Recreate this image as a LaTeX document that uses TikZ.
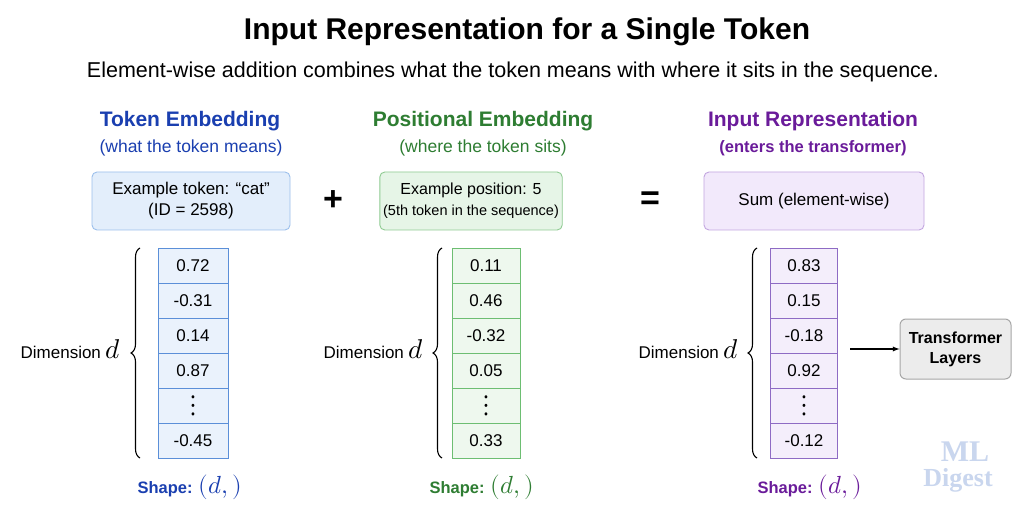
\documentclass[tikz,border=0pt]{standalone}
\usepackage{unicode-math}
\setmainfont{Liberation Sans}
\setmathfont{Latin Modern Math}
\newfontfamily\wmfont{Liberation Serif}
\usetikzlibrary{decorations.pathreplacing}
\definecolor{hb}{HTML}{1A3FB0}\definecolor{hg}{HTML}{2E7D32}\definecolor{hp}{HTML}{6A1B9A}
\definecolor{bbf}{HTML}{E3EEFB}\definecolor{bbd}{HTML}{9CC0EC}
\definecolor{gbf}{HTML}{E6F5E7}\definecolor{gbd}{HTML}{8FCB92}
\definecolor{pbf}{HTML}{F2E9FB}\definecolor{pbd}{HTML}{C3A6E0}
\definecolor{cbf}{HTML}{EAF2FC}\definecolor{cbd}{HTML}{5B8FD8}
\definecolor{cgf}{HTML}{EEF8EE}\definecolor{cgd}{HTML}{6DBE72}
\definecolor{cpf}{HTML}{F4EEFB}\definecolor{cpd}{HTML}{8E6BC4}
\definecolor{wmc}{HTML}{C9D6EE}
\newcommand{\vd}{\scalebox{1.6}[1.8]{$\boldsymbol{\vdots}$}}
\newcommand{\dd}{\scalebox{1.6}{$d$}}
\newcommand{\shpd}{\scalebox{1.5}{$(d,)$}}
\begin{document}
\begin{tikzpicture}[x=1pt,y=-1pt,
  head/.style={font=\fontsize{21}{23}\selectfont\bfseries},
  sub/.style={font=\fontsize{17.5}{20}\selectfont},
  ibox/.style={rounded corners=5pt,line width=0.9pt,minimum height=58pt,align=center,font=\fontsize{17}{21}\selectfont},
  cell/.style={draw,line width=0.8pt,minimum width=70pt,minimum height=35pt,font=\fontsize{17}{19}\selectfont,inner sep=0pt},
  dim/.style={font=\fontsize{17}{19}\selectfont},
  shp/.style={font=\fontsize{16.5}{19}\selectfont\bfseries},
  br/.style={decorate,decoration={brace,amplitude=9pt},line width=1.1pt},
  op/.style={font=\fontsize{34}{36}\selectfont\bfseries}]
\useasboundingbox[fill=white] (0,0) rectangle (1024,510);
\node[font=\fontsize{30}{32}\selectfont\bfseries] (title) at (527,32) {Input Representation for a Single Token};
\node[font=\fontsize{21.5}{24}\selectfont] (subt) at (513,72) {Element-wise addition combines what the token means with where it sits in the sequence.};
% column 1
\node[head,text=hb] (h1) at (190,121) {Token Embedding};
\node[sub,text=hb] (s1) at (191,148) {(what the token means)};
\node[ibox,fill=bbf,draw=bbd,minimum width=198pt] (b1) at (191,201) {Example token: “cat”\\(ID = 2598)};
\foreach \v [count=\i] in {0.72,-0.31,0.14,0.87,\vd,-0.45}
  \node[cell,fill=cbf,draw=cbd] (a\i) at (193,{230.5+35*\i}) {\v};
\coordinate (a0) at (140,458); \coordinate (at) at (140,248);
\draw[br] (a0) -- (at);
\node[dim,anchor=east] (d1) at (124,349) {Dimension \dd};
\node[shp,text=hb] (sh1) at (190,487) {Shape: \shpd};
\node[op] (plus) at (333,201) {+};
% column 2
\node[head,text=hg] (h2) at (483,121) {Positional Embedding};
\node[sub,text=hg] (s2) at (483,148) {(where the token sits)};
\node[ibox,fill=gbf,draw=gbd,minimum width=182pt,font=\fontsize{16}{21}\selectfont] (b2) at (471,201) {Example position: 5\\{\fontsize{14.5}{17}\selectfont(5th token in the sequence)}};
\foreach \v [count=\i] in {0.11,0.46,-0.32,0.05,\vd,0.33}
  \node[cell,fill=cgf,draw=cgd,minimum width=68pt] (b\i) at (486,{230.5+35*\i}) {\v};
\coordinate (b0) at (442,458); \coordinate (bt) at (442,248);
\draw[br] (b0) -- (bt);
\node[dim,anchor=east] (d2) at (427,349) {Dimension \dd};
\node[shp,text=hg] (sh2) at (482,487) {Shape: \shpd};
\node[op] (eq) at (650,201) {=};
% column 3
\node[head,text=hp] (h3) at (813,121) {Input Representation};
\node[sub,text=hp,font=\fontsize{16.5}{19}\selectfont\bfseries] (s3) at (813,148) {(enters the transformer)};
\node[ibox,fill=pbf,draw=pbd,minimum width=220pt,font=\fontsize{17}{21}\selectfont] (b3) at (814,201) {Sum (element-wise)};
\foreach \v [count=\i] in {0.83,0.15,-0.18,0.92,\vd,-0.12}
  \node[cell,fill=cpf,draw=cpd,minimum width=67pt] (c\i) at (804,{230.5+35*\i}) {\v};
\coordinate (c0) at (757,458); \coordinate (ct) at (757,248);
\draw[br] (c0) -- (ct);
\node[dim,anchor=east] (d3) at (742,349) {Dimension \dd};
\node[shp,text=hp] (sh3) at (810,487) {Shape: \shpd};
\node[draw=gray!70,fill=gray!15,rounded corners=6pt,line width=1pt,minimum width=111pt,minimum height=60pt,align=center,font=\fontsize{16}{20}\selectfont\bfseries] (tl) at (955.5,349) {Transformer\\Layers};
\coordinate (arrs) at (850,349);
\draw[-latex,line width=1.3pt] (arrs) -- (tl.west);
\node[text=wmc,font=\fontsize{30}{30}\selectfont\wmfont\bfseries,inner sep=0pt] (wm1) at (965,452) {ML};
\node[text=wmc,font=\fontsize{26}{26}\selectfont\wmfont\bfseries,inner sep=0pt] (wm2) at (958,480) {Digest};
\end{tikzpicture}
\end{document}
